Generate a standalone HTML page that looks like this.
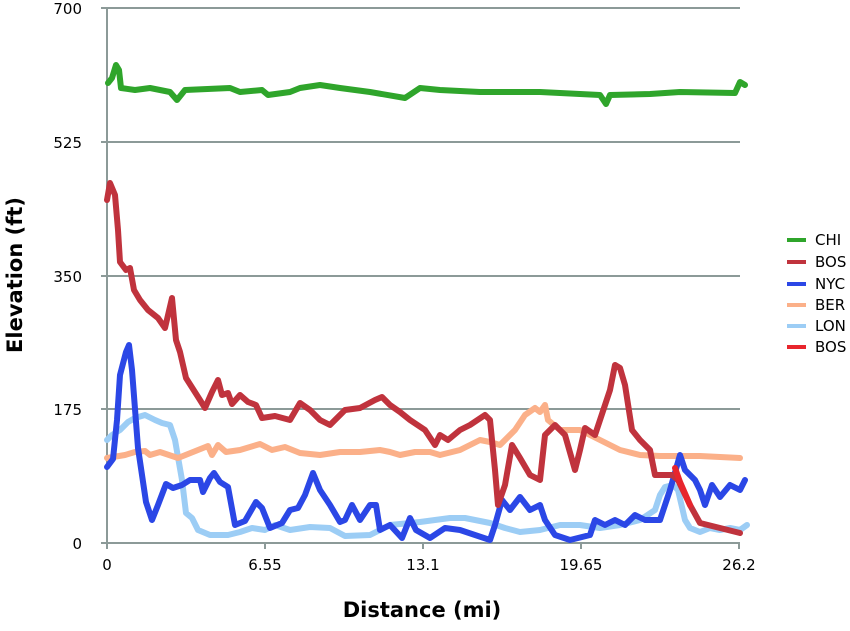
<!DOCTYPE html><html><head><style>body{margin:0;background:#fff}svg{display:block}text{font-family:"DejaVu Sans","Liberation Sans",sans-serif}</style></head><body>
<svg width="850" height="631" viewBox="0 0 850 631">
<g stroke="#8c9a98" stroke-width="2" fill="none">
<line x1="101" y1="8" x2="740" y2="8"/><line x1="101" y1="142" x2="740" y2="142"/><line x1="101" y1="276" x2="740" y2="276"/><line x1="101" y1="409" x2="740" y2="409"/><line x1="101" y1="543" x2="740" y2="543"/>
<line x1="107" y1="8" x2="107" y2="549"/>
<line x1="265" y1="543" x2="265" y2="549"/><line x1="423" y1="543" x2="423" y2="549"/><line x1="581" y1="543" x2="581" y2="549"/><line x1="739" y1="543" x2="739" y2="549"/>
</g>
<g font-size="15" fill="#000" text-anchor="end">
<text x="82" y="14">700</text><text x="82" y="148">525</text><text x="82" y="282">350</text><text x="82" y="415">175</text><text x="82" y="549">0</text>
</g>
<g font-size="15" fill="#000" text-anchor="middle">
<text x="107" y="570">0</text><text x="265" y="570">6.55</text><text x="423" y="570">13.1</text><text x="581" y="570">19.65</text><text x="739" y="570">26.2</text>
</g>
<text x="422" y="617" font-size="21" font-weight="bold" text-anchor="middle">Distance (mi)</text>
<text transform="translate(22,275) rotate(-90)" font-size="21" font-weight="bold" text-anchor="middle">Elevation (ft)</text>
<g fill="none" stroke-width="6" stroke-linejoin="round" stroke-linecap="round">
<polyline stroke="#9ccdf5" points="107,440 112,435 120,430 128,422 135,418 145,415 155,420 162,423 170,425 175,440 182,480 186,513 192,518 198,530 210,535 228,535 240,532 252,528 265,530 275,525 290,530 310,527 330,528 345,536 370,535 390,525 420,522 450,518 465,518 475,520 490,523 505,528 520,532 540,530 560,525 580,525 600,528 620,525 640,520 655,510 660,495 665,487 673,485 678,490 685,520 690,528 700,532 710,528 720,530 730,528 740,530 747,525"/>
<polyline stroke="#fbb089" points="107,458 125,455 135,452 145,451 150,455 160,452 178,458 198,450 208,446 212,455 218,445 226,452 240,450 260,444 272,450 285,447 300,453 320,455 340,452 360,452 380,450 390,452 400,455 415,452 430,452 440,455 460,450 480,440 490,442 500,445 515,430 525,415 535,408 540,412 545,405 548,420 560,430 580,430 600,440 620,450 640,455 660,456 700,456 740,458"/>
<polyline stroke="#2b47e6" points="107,467 113,459 117,420 120,375 126,352 129,345 132,370 138,448 146,502 152,520 158,505 166,484 173,488 182,485 190,480 200,480 203,492 210,478 214,473 220,482 228,487 235,525 245,521 256,502 262,508 270,528 282,523 290,510 298,508 305,495 313,473 320,490 330,505 340,522 345,520 352,505 360,520 370,505 376,505 380,530 390,525 402,538 410,518 416,530 430,538 445,528 460,530 475,535 490,540 495,525 502,500 510,510 520,497 530,510 540,505 545,520 555,535 570,540 590,535 595,520 605,525 615,520 625,525 635,515 645,520 660,520 670,490 680,455 685,470 695,480 700,490 705,505 712,485 720,497 730,485 740,490 745,480"/>
<polyline stroke="#c0333d" points="107,200 110,183 115,195 118,230 120,262 126,270 130,268 134,290 140,300 148,310 158,318 165,328 172,298 176,340 180,352 186,378 200,400 205,408 212,392 218,380 222,395 228,393 232,404 240,395 248,402 256,405 262,418 275,416 290,420 300,403 310,410 320,420 330,425 345,410 360,408 375,400 382,397 390,405 400,412 410,420 425,430 435,445 440,435 448,440 460,430 470,425 485,415 490,420 495,470 498,505 505,485 512,445 520,458 530,475 540,480 545,435 555,425 565,435 575,470 580,450 585,428 595,435 600,420 610,390 615,365 620,368 625,385 632,430 640,440 650,450 655,475 672,475 678,480 690,505 700,523 740,533"/>
<polyline stroke="#e8252d" points="675,468 680,482 690,505"/>
<polyline stroke="#2fa52b" points="108,83 112,78 116,65 119,70 121,88 135,90 150,88 170,92 177,100 185,90 230,88 240,92 262,90 268,95 290,92 300,88 320,85 340,88 370,92 405,98 420,88 440,90 480,92 540,92 580,94 600,95 606,104 610,95 650,94 680,92 735,93 740,82 745,85"/>
</g>
<g stroke-width="4">
<line x1="787" y1="240" x2="806" y2="240" stroke="#2fa52b"/>
<line x1="787" y1="262" x2="806" y2="262" stroke="#c0333d"/>
<line x1="787" y1="284" x2="806" y2="284" stroke="#2b47e6"/>
<line x1="787" y1="305" x2="806" y2="305" stroke="#fbb089"/>
<line x1="787" y1="326" x2="806" y2="326" stroke="#9ccdf5"/>
<line x1="787" y1="347" x2="806" y2="347" stroke="#e8252d"/>
</g>
<g font-size="15" fill="#000">
<text x="815" y="245">CHI</text><text x="815" y="267">BOS</text><text x="815" y="289">NYC</text><text x="815" y="310">BER</text><text x="815" y="331">LON</text><text x="815" y="352">BOS</text>
</g>
</svg></body></html>
